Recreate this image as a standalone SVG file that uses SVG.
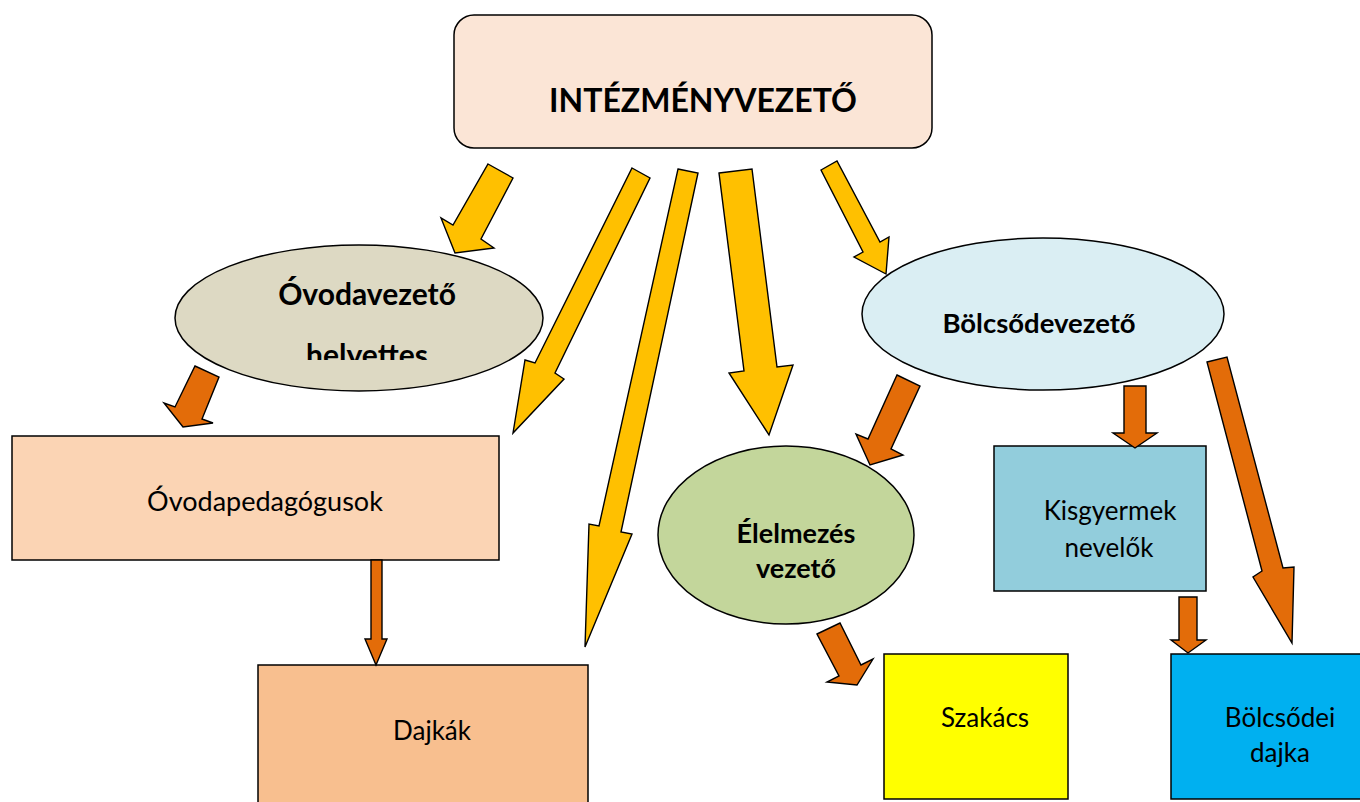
<svg xmlns="http://www.w3.org/2000/svg" width="1360" height="802" viewBox="0 0 1360 802">
<defs>
<style>
.shape{stroke:#000;stroke-width:1.5}
.ya{fill:#FFC000;stroke:#000;stroke-width:1.4;stroke-linejoin:miter}
.oa{fill:#E36C09;stroke:#000;stroke-width:1.4;stroke-linejoin:miter}
.b{font-family:Lato,"Liberation Sans",sans-serif;font-weight:bold;fill:#000;text-anchor:middle}
.r{font-family:Lato,"Liberation Sans",sans-serif;fill:#000;text-anchor:middle}
</style>
<clipPath id="clipHelyettes"><rect x="0" y="0" width="1360" height="360"/></clipPath>
</defs>
<rect width="1360" height="802" fill="#fff"/>

<g id="intezmenyvezeto">
<rect class="shape" x="454" y="15" width="478" height="133" rx="20" fill="#FBE5D6"/>
<text class="b" x="703" y="112" font-size="32">INTÉZMÉNYVEZETŐ</text>
</g>

<g id="ovodavezeto-helyettes">
<ellipse class="shape" cx="359" cy="318" rx="184" ry="73" fill="#DDD9C3"/>
<text class="b" x="367" y="305" font-size="30">Óvodavezető</text>
<text class="b" x="367" y="366" font-size="30" clip-path="url(#clipHelyettes)">helyettes</text>
</g>

<g id="bolcsodevezeto">
<ellipse class="shape" cx="1043" cy="314" rx="181" ry="76" fill="#DAEEF3"/>
<text class="b" x="1039" y="333" font-size="27.5">Bölcsődevezető</text>
</g>

<g id="ovodapedagogusok">
<rect class="shape" x="12" y="436" width="487" height="124" fill="#FBD4B4"/>
<text class="r" x="265" y="511" font-size="27">Óvodapedagógusok</text>
</g>

<g id="dajkak">
<rect class="shape" x="258" y="665" width="330" height="140" fill="#F8BF8F"/>
<text class="r" x="432" y="740" font-size="26">Dajkák</text>
</g>

<g id="elelmezes-vezeto">
<ellipse class="shape" cx="786" cy="535" rx="128" ry="89" fill="#C3D69B"/>
<text class="b" x="796" y="543" font-size="27">Élelmezés</text>
<text class="b" x="796" y="578" font-size="27">vezető</text>
</g>

<g id="kisgyermek-nevelok">
<rect class="shape" x="994" y="446" width="212" height="145" fill="#92CDDC"/>
<text class="r" x="1110" y="520" font-size="26">Kisgyermek</text>
<text class="r" x="1109" y="557" font-size="26">nevelők</text>
</g>

<g id="szakacs">
<rect class="shape" x="884" y="654" width="184" height="145" fill="#FFFF00"/>
<text class="r" x="985" y="727" font-size="26">Szakács</text>
</g>

<g id="bolcsodei-dajka">
<rect class="shape" x="1171" y="654" width="200" height="145" fill="#00B0F0"/>
<text class="r" x="1280" y="727" font-size="26">Bölcsődei</text>
<text class="r" x="1280" y="762" font-size="26">dajka</text>
</g>

<g id="connectors">
<polygon class="ya" points="488,164 513,178 481,239 494,248 455,253 441,218 453,225"/>
<polygon class="ya" points="632,168 650,178 555,373 564,379 513,433 525,360 535,363"/>
<polygon class="ya" points="678,169 698,173 621,532 632,534 585,647 589,524 599,526"/>
<polygon class="ya" points="719,173 752,169 777,367 793,365 769,435 729,373 744,371"/>
<polygon class="ya" points="821,170 837,161 880,242 889,237 886,274 854,257 863,252"/>
<polygon class="oa" points="195,366 219,377 202,419 213,423 183,427 164,403 175,407"/>
<polygon class="oa" points="371,560 382,560 382,639 387,639 376,665 365,639 371,639"/>
<polygon class="oa" points="897,375 920,386 891,449 903,455 870,465 856,434 868,439"/>
<polygon class="oa" points="1124,386 1146,386 1146,433 1157,433 1135,448 1113,433 1124,433"/>
<polygon class="oa" points="1207,362 1227,357 1283,568 1294,567 1292,643 1253,577 1262,571"/>
<polygon class="oa" points="1179,597 1197,597 1197,640 1206,640 1188,653 1171,640 1179,640"/>
<polygon class="oa" points="817,634 840,623 861,665 873,659 857,685 827,682 839,676"/>
</g>
</svg>
